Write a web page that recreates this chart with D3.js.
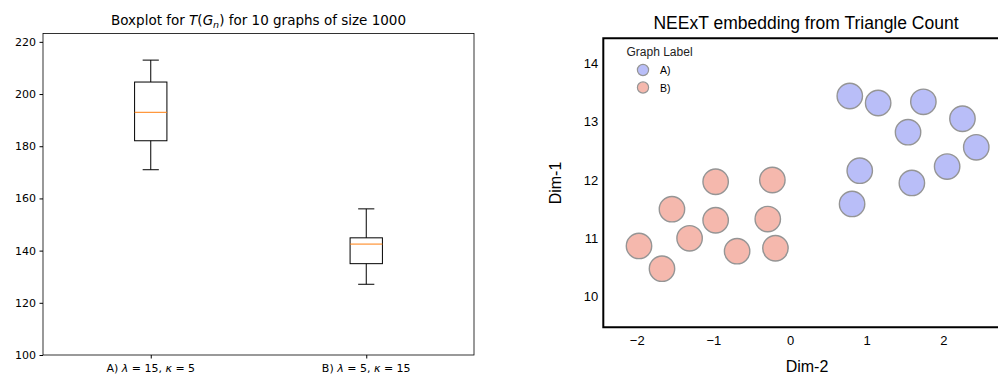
<!DOCTYPE html>
<html>
<head>
<meta charset="utf-8">
<script src="https://cdnjs.cloudflare.com/ajax/libs/d3/7.8.5/d3.min.js"></script>
<style>
  body { margin: 0; background: #fff; }
  svg { display: block; }
</style>
</head>
<body>
<svg id="chart" width="998" height="374"></svg>
<script>
// boxplot stats
const groups = ['A', 'B'];
const whiskerLow = [171.0, 127.1];
const q1 = [182.1, 135.0];
const median = [193.0, 142.5];
const q3 = [204.6, 144.9];
const whiskerHigh = [213.0, 156.0];
const boxTicks = [100, 120, 140, 160, 180, 200, 220];

// embedding points
const ptsA_x = [0.78, 1.15, 1.74, 2.25, 1.54, 2.43, 0.91, 1.59, 2.05, 0.81];
const ptsA_y = [13.44, 13.32, 13.34, 13.05, 12.82, 12.56, 12.16, 11.95, 12.23, 11.59];
const ptsB_x = [-0.97, -0.23, -1.54, -0.97, -0.29, -1.31, -1.97, -0.69, -0.19, -1.67];
const ptsB_y = [11.97, 12.00, 11.50, 11.31, 11.33, 11.00, 10.87, 10.78, 10.83, 10.48];
const embXTicks = [-2, -1, 0, 1, 2];
const embYTicks = [10, 11, 12, 13, 14];

const svg = d3.select('#chart');
const minus = v => String(v).replace('-', '\u2212');

// ---------- left: boxplot ----------
const L = { left: 43, right: 474, top: 33.5, bottom: 355 };
const lx = d3.scaleLinear().domain([0.5, 2.5]).range([L.left, L.right]);
const ly = d3.scaleLinear().domain([100, 223.2]).range([L.bottom, L.top]);

const left = svg.append('g').attr('font-family', 'DejaVu Sans').attr('font-size', 11);

left.append('g')
  .attr('transform', `translate(${L.left},0)`)
  .call(d3.axisLeft(ly).tickValues(boxTicks).tickSize(3.5).tickPadding(3.5))
  .call(g => g.select('.domain').remove())
  .call(g => g.selectAll('text').attr('fill', '#000').attr('font-family', 'DejaVu Sans').attr('font-size', 11));

left.append('g')
  .attr('transform', `translate(0,${L.bottom})`)
  .call(d3.axisBottom(lx).tickValues([1, 2]).tickSize(3.5).tickFormat(() => ''))
  .call(g => g.select('.domain').remove());

// x tick labels with math italics
const xLabels = [
  [['A) ', 'n'], ['λ', 'i'], [' = 15, ', 'n'], ['κ', 'i'], [' = 5', 'n']],
  [['B) ', 'n'], ['λ', 'i'], [' = 5, ', 'n'], ['κ', 'i'], [' = 15', 'n']]
];
xLabels.forEach((parts, i) => {
  const t = left.append('text')
    .attr('x', lx(i + 1)).attr('y', L.bottom + 17)
    .attr('text-anchor', 'middle').attr('fill', '#000');
  parts.forEach(p => t.append('tspan').text(p[0]).attr('font-style', p[1] === 'i' ? 'italic' : null));
});

left.append('rect')
  .attr('x', L.left).attr('y', L.top)
  .attr('width', L.right - L.left).attr('height', L.bottom - L.top)
  .attr('fill', 'none').attr('stroke', '#000').attr('stroke-width', 0.8);

const boxW = lx(1.075) - lx(0.925);
const capW = boxW / 2;
const boxes = left.selectAll('.box').data(groups).enter().append('g').attr('class', 'box');
boxes.append('line')
  .attr('x1', (d, i) => lx(i + 1)).attr('x2', (d, i) => lx(i + 1))
  .attr('y1', (d, i) => ly(whiskerHigh[i])).attr('y2', (d, i) => ly(q3[i]))
  .attr('stroke', '#000');
boxes.append('line')
  .attr('x1', (d, i) => lx(i + 1)).attr('x2', (d, i) => lx(i + 1))
  .attr('y1', (d, i) => ly(q1[i])).attr('y2', (d, i) => ly(whiskerLow[i]))
  .attr('stroke', '#000');
boxes.append('line')
  .attr('x1', (d, i) => lx(i + 1) - capW / 2).attr('x2', (d, i) => lx(i + 1) + capW / 2)
  .attr('y1', (d, i) => ly(whiskerHigh[i])).attr('y2', (d, i) => ly(whiskerHigh[i]))
  .attr('stroke', '#000');
boxes.append('line')
  .attr('x1', (d, i) => lx(i + 1) - capW / 2).attr('x2', (d, i) => lx(i + 1) + capW / 2)
  .attr('y1', (d, i) => ly(whiskerLow[i])).attr('y2', (d, i) => ly(whiskerLow[i]))
  .attr('stroke', '#000');
boxes.append('rect')
  .attr('x', (d, i) => lx(i + 1) - boxW / 2).attr('width', boxW)
  .attr('y', (d, i) => ly(q3[i])).attr('height', (d, i) => ly(q1[i]) - ly(q3[i]))
  .attr('fill', 'none').attr('stroke', '#000');
boxes.append('line')
  .attr('x1', (d, i) => lx(i + 1) - boxW / 2).attr('x2', (d, i) => lx(i + 1) + boxW / 2)
  .attr('y1', (d, i) => ly(median[i])).attr('y2', (d, i) => ly(median[i]))
  .attr('stroke', '#ff7f0e');

const title = left.append('text')
  .attr('x', (L.left + L.right) / 2).attr('y', 25)
  .attr('text-anchor', 'middle').attr('font-size', 13.5).attr('fill', '#000');
title.append('tspan').text('Boxplot for ');
title.append('tspan').text('T').attr('font-style', 'italic');
title.append('tspan').text('(');
title.append('tspan').text('G').attr('font-style', 'italic');
title.append('tspan').text('n').attr('font-style', 'italic').attr('font-size', 9.5).attr('dy', 3);
title.append('tspan').text(')').attr('dy', -3);
title.append('tspan').text(' for 10 graphs of size 1000');

// ---------- right: embedding scatter ----------
const R = { left: 603.3, right: 1030, top: 38.3, bottom: 327.3 };
const rx = d3.scaleLinear().domain([-2, 2]).range([636.7, 943.3]);
const ry = d3.scaleLinear().domain([10, 14]).range([296.7, 63.3]);
const blue = '#b9bef8';
const pink = '#f5b8ad';

const right = svg.append('g').attr('font-family', 'Liberation Sans, Arial, sans-serif');

right.append('g')
  .attr('transform', `translate(${R.left},0)`)
  .call(d3.axisLeft(ry).tickValues(embYTicks).tickSize(0).tickPadding(5).tickFormat(d3.format('d')))
  .call(g => g.select('.domain').remove())
  .call(g => g.selectAll('text').attr('fill', '#000').attr('font-family', 'Liberation Sans, Arial').attr('font-size', 13));

right.append('g')
  .attr('transform', `translate(0,${R.bottom})`)
  .call(d3.axisBottom(rx).tickValues(embXTicks).tickSize(0).tickPadding(8).tickFormat(minus))
  .call(g => g.select('.domain').remove())
  .call(g => g.selectAll('text').attr('fill', '#000').attr('font-family', 'Liberation Sans, Arial').attr('font-size', 13));

right.append('path')
  .attr('d', `M${R.right},${R.top}H${R.left}V${R.bottom}H${R.right}`)
  .attr('fill', 'none').attr('stroke', '#000').attr('stroke-width', 2);

const pts = ptsA_x.map((x, i) => ({ x, y: ptsA_y[i], c: blue }))
  .concat(ptsB_x.map((x, i) => ({ x, y: ptsB_y[i], c: pink })));
right.selectAll('.pt').data(pts).enter().append('circle')
  .attr('class', 'pt')
  .attr('cx', d => rx(d.x)).attr('cy', d => ry(d.y)).attr('r', 12.7)
  .attr('fill', d => d.c).attr('stroke', '#959595').attr('stroke-width', 1.4);

right.append('text').attr('x', 806).attr('y', 29)
  .attr('text-anchor', 'middle').attr('font-size', 17.5).attr('fill', '#000')
  .text('NEExT embedding from Triangle Count');
right.append('text').attr('x', 807).attr('y', 372)
  .attr('text-anchor', 'middle').attr('font-size', 16).attr('fill', '#000')
  .text('Dim-2');
right.append('text').attr('transform', 'translate(561,183) rotate(-90)')
  .attr('text-anchor', 'middle').attr('font-size', 16).attr('fill', '#000')
  .text('Dim-1');

// legend
const legend = right.append('g');
legend.append('text').attr('x', 626.5).attr('y', 56).attr('font-size', 12).attr('fill', '#222').text('Graph Label');
[['A)', blue], ['B)', pink]].forEach((d, i) => {
  legend.append('circle').attr('cx', 643).attr('cy', 70 + i * 17.5).attr('r', 5.6)
    .attr('fill', d[1]).attr('stroke', '#959595').attr('stroke-width', 1.2);
  legend.append('text').attr('x', 660).attr('y', 74 + i * 17.5).attr('font-size', 10.5).attr('fill', '#000').text(d[0]);
});
</script>
</body>
</html>
